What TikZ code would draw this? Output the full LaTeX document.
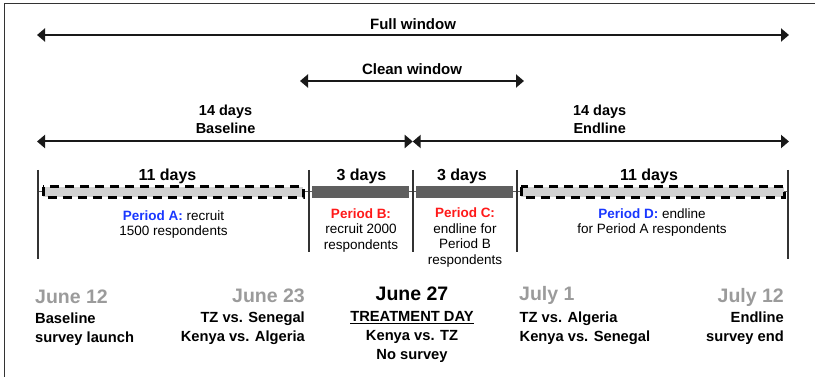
\documentclass[tikz,border=0pt]{standalone}
\usepackage{fontspec}
\setmainfont{Liberation Sans}
\usetikzlibrary{arrows.meta}

\definecolor{periodblue}{RGB}{25,55,255}
\definecolor{periodred}{RGB}{255,25,25}
\definecolor{dategray}{RGB}{155,155,155}
\definecolor{barlight}{RGB}{210,210,210}
\definecolor{bardark}{RGB}{95,95,95}

\begin{document}
\begin{tikzpicture}[x=1pt,y=-1pt,
  span/.style={draw=black!90, line width=2pt,
    {Triangle[length=8pt,width=13pt]}-{Triangle[length=8pt,width=13pt]}},
  daytick/.style={draw=black!80, line width=1.8pt},
  axisline/.style={draw=black!65, line width=1pt},
  surveybar/.style={fill=barlight, draw=black, line width=3pt, dash pattern=on 9pt off 6pt},
  gapbar/.style={fill=bardark},
  wintext/.style={font=\fontsize{15}{18}\selectfont\bfseries, inner sep=0pt, anchor=base},
  spantext/.style={font=\fontsize{14.5}{18}\selectfont\bfseries, align=center, inner sep=0pt, anchor=north},
  daystext/.style={font=\fontsize{16}{19}\selectfont\bfseries, inner sep=0pt, anchor=base},
  periodtext/.style={font=\fontsize{13.5}{15.6}\selectfont, align=center, inner sep=0pt, anchor=north},
  datetext/.style={font=\fontsize{19.5}{22}\selectfont\bfseries, text=dategray, inner sep=0pt},
  eventtext/.style={font=\fontsize{14.7}{19}\selectfont\bfseries, inner sep=0pt}]
  \useasboundingbox (0,0) rectangle (815,377);

  % frame
  \draw[black!80, line width=1.3pt] (4.5,377) -- (4.5,3.5) -- (815,3.5);

  % windows
  \coordinate (fullL) at (37,35);
  \coordinate (fullR) at (789,35);
  \coordinate (cleanL) at (300,81);
  \coordinate (cleanR) at (524,81);
  \coordinate (baseL) at (37,141.5);
  \coordinate (treat) at (412.7,141.5);
  \coordinate (endR) at (789,141.5);
  \draw[span] (fullL) -- (fullR);
  \draw[span] (cleanL) -- (cleanR);
  \draw[span] (baseL) -- (treat);
  \draw[span] (treat) -- (endR);
  \node[wintext] (fulltxt) at (413,30) {Full window};
  \node[wintext] (cleantxt) at (412,75) {Clean window};
  \node[spantext] (basetxt) at (225.6,104.6) {14 days\\Baseline};
  \node[spantext] (endtxt) at (599.7,104.6) {14 days\\Endline};

  % timeline
  \coordinate (axL) at (38,192);
  \coordinate (axR) at (788,192);
  \draw[axisline] (axL) -- (axR);
  \foreach \x/\b in {38/259,309/252,413/252,517/252,788/259}
    \draw[daytick] (\x,170) -- (\x,\b);
  \draw[surveybar] (43,187) rectangle (303,197.5);
  \draw[surveybar] (521,187) rectangle (784,197.5);
  \fill[gapbar] (312,186.5) rectangle (409,198.5);
  \fill[gapbar] (416,186.5) rectangle (513,198.5);
  \node[daystext] (daysA) at (167.5,180.7) {11 days};
  \node[daystext] (daysB) at (361.5,180.7) {3 days};
  \node[daystext] (daysC) at (462,180.7) {3 days};
  \node[daystext] (daysD) at (649,180.7) {11 days};

  % periods
  \node[periodtext] (perA) at (173.5,210.3) {\textcolor{periodblue}{\textbf{Period A:}} recruit\\1500 respondents};
  \node[periodtext] (perB) at (361,208.3) {\textcolor{periodred}{\textbf{Period B:}}\\recruit 2000\\respondents};
  \node[periodtext] (perC) at (465,207.8) {\textcolor{periodred}{\textbf{Period C:}}\\endline for\\Period B\\respondents};
  \node[periodtext] (perD) at (652,208.3) {\textcolor{periodblue}{\textbf{Period D:}} endline\\for Period A respondents};

  % dates
  \node[datetext, anchor=base west] (jun12) at (35,304) {June 12};
  \node[eventtext, anchor=north west, align=left] (jun12ev) at (35,312.4) {Baseline\\survey launch};
  \node[datetext, anchor=base east] (jun23) at (305,302) {June 23};
  \node[eventtext, anchor=north east, align=right] (jun23ev) at (305,311.5) {TZ vs. Senegal\\Kenya vs. Algeria};
  \node[datetext, text=black, anchor=base] (jun27) at (412,301) {June 27};
  \node[eventtext, anchor=north, align=center] (jun27ev) at (412,311.5) {\underline{TREATMENT DAY}\\Kenya vs. TZ\\No survey};
  \node[datetext, anchor=base west] (jul1) at (519,301) {July 1};
  \node[eventtext, anchor=north west, align=left] (jul1ev) at (519.5,311.5) {TZ vs. Algeria\\Kenya vs. Senegal};
  \node[datetext, anchor=base east] (jul12) at (784,302) {July 12};
  \node[eventtext, anchor=north east, align=right] (jul12ev) at (784,311.5) {Endline\\survey end};
\end{tikzpicture}
\end{document}
